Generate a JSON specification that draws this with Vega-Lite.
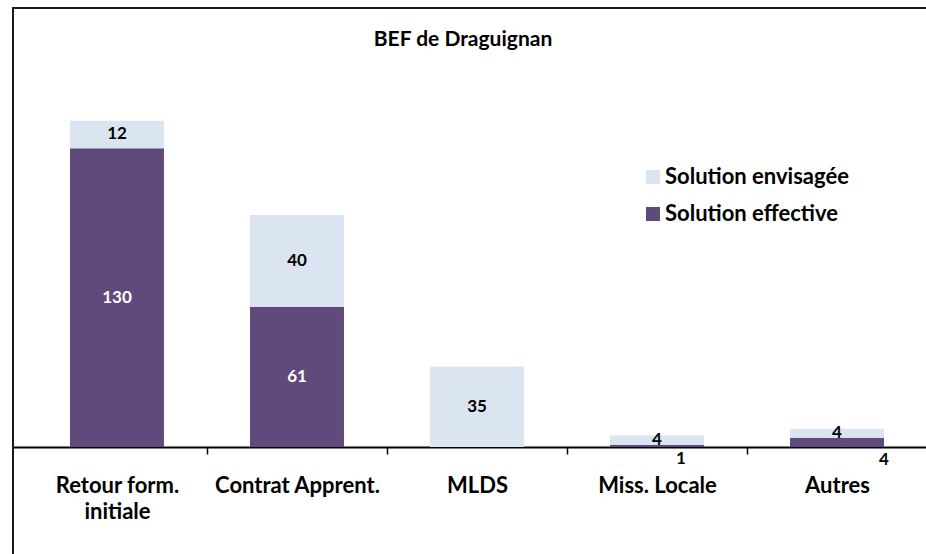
{
  "$schema": "https://vega.github.io/schema/vega-lite/v6.json",
  "width": 928,
  "height": 554,
  "autosize": {"type": "none"},
  "padding": {"left": 13, "top": 8, "right": 0, "bottom": 0},
  "background": "white",
  "config": {
    "view": {"stroke": "#1a1a1a", "strokeWidth": 2},
    "font": "Lato",
    "axis": {"grid": false}
  },
  "title": {
    "text": "BEF de Draguignan",
    "font": "Lato",
    "fontSize": 21,
    "fontWeight": "bold",
    "color": "black",
    "anchor": "middle",
    "frame": "group",
    "offset": 0,
    "dx": -14,
    "dy": 42
  },
  "data": {
    "values": [
      {"cat": "Retour form. initiale", "series": "Solution effective", "value": 130},
      {"cat": "Retour form. initiale", "series": "Solution envisagée", "value": 12},
      {"cat": "Contrat Apprent.", "series": "Solution effective", "value": 61},
      {"cat": "Contrat Apprent.", "series": "Solution envisagée", "value": 40},
      {"cat": "MLDS", "series": "Solution effective", "value": 0},
      {"cat": "MLDS", "series": "Solution envisagée", "value": 35},
      {"cat": "Miss. Locale", "series": "Solution effective", "value": 1},
      {"cat": "Miss. Locale", "series": "Solution envisagée", "value": 4},
      {"cat": "Autres", "series": "Solution effective", "value": 4},
      {"cat": "Autres", "series": "Solution envisagée", "value": 4}
    ]
  },
  "transform": [
    {"stack": "value", "groupby": ["cat"], "sort": [{"field": "series", "order": "ascending"}], "as": ["v0", "v1"]},
    {"calculate": "(datum.v0 + datum.v1) / 2", "as": "mid"}
  ],
  "encoding": {
    "x": {
      "field": "cat",
      "type": "nominal",
      "sort": null,
      "scale": {"paddingInner": 0.478, "paddingOuter": 0.3167},
      "axis": {
        "orient": "bottom",
        "offset": -115,
        "title": null,
        "labelAngle": 0,
        "domainColor": "black",
        "domainWidth": 2,
        "tickColor": "black",
        "tickWidth": 1.5,
        "tickSize": 7,
        "tickOffset": 90,
        "labelOffset": -90,
        "labelFont": "Lato",
        "labelFontSize": 22,
        "labelFontWeight": "bold",
        "labelColor": "black",
        "labelPadding": 21,
        "labelLineHeight": 26,
        "labelBaseline": "top",
        "labelLimit": 200,
        "labelExpr": "datum.label == 'Retour form. initiale' ? ['Retour form.', 'initiale'] : datum.label"
      }
    }
  },
  "layer": [
    {
      "mark": {"type": "bar"},
      "encoding": {
        "y": {"field": "v1", "type": "quantitative", "scale": {"domain": [-50, 191], "nice": false, "zero": false}, "axis": null},
        "y2": {"field": "v0"},
        "color": {
          "field": "series",
          "type": "nominal",
          "scale": {"domain": ["Solution envisagée", "Solution effective"], "range": ["#DBE5F1", "#604A7B"]},
          "legend": {
            "title": null,
            "orient": "none",
            "legendX": 629,
            "legendY": 158,
            "symbolType": "square",
            "symbolSize": 196,
            "symbolStrokeWidth": 0,
            "labelFont": "Lato",
            "labelFontSize": 22,
            "labelFontWeight": "bold",
            "labelColor": "black",
            "labelOffset": 1,
            "labelLimit": 300,
            "rowPadding": 15,
            "padding": 0
          }
        }
      }
    },
    {
      "transform": [{"filter": "datum.value > 0 && !(datum.series == 'Solution effective' && datum.value < 10)"}],
      "mark": {"type": "text", "fontSize": 17, "fontWeight": "bold", "font": "Lato", "baseline": "middle"},
      "encoding": {
        "y": {"field": "mid", "type": "quantitative"},
        "text": {"field": "value", "type": "quantitative"},
        "color": {"condition": {"test": "datum.series == 'Solution effective'", "value": "white"}, "value": "black"}
      }
    },
    {
      "transform": [{"filter": "datum.cat == 'Miss. Locale' && datum.series == 'Solution effective'"}],
      "mark": {"type": "text", "fontSize": 17, "fontWeight": "bold", "font": "Lato", "baseline": "top", "dx": 24, "dy": 4, "color": "black"},
      "encoding": {
        "y": {"field": "v0", "type": "quantitative"},
        "text": {"field": "value", "type": "quantitative"}
      }
    },
    {
      "transform": [{"filter": "datum.cat == 'Autres' && datum.series == 'Solution effective'"}],
      "mark": {"type": "text", "fontSize": 17, "fontWeight": "bold", "font": "Lato", "baseline": "top", "dx": 47, "dy": 5, "color": "black"},
      "encoding": {
        "y": {"field": "v0", "type": "quantitative"},
        "text": {"field": "value", "type": "quantitative"}
      }
    }
  ]
}
